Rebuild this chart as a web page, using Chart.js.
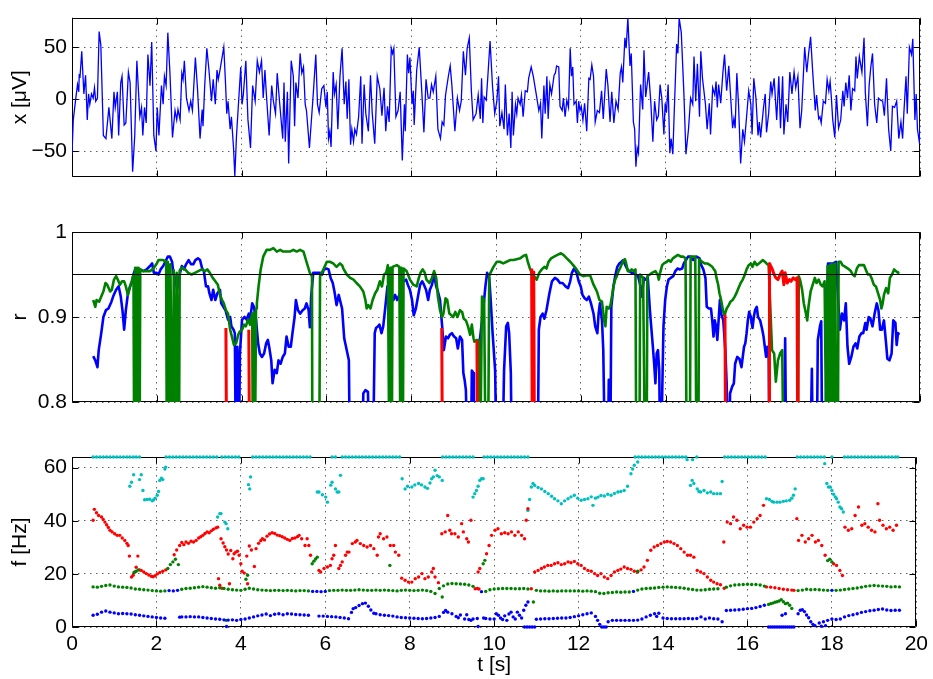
<!DOCTYPE html>
<html><head><meta charset="utf-8">
<script src="https://cdn.jsdelivr.net/npm/chart.js@4.4.0/dist/chart.umd.min.js"></script>
<style>
html,body{margin:0;padding:0;background:#fff;}
#wrap{position:relative;width:933px;height:679px;overflow:hidden;background:#fff;}
canvas{position:absolute;left:0;top:0;}
</style></head><body>
<div id="wrap">
<canvas id="c1" width="933" height="679"></canvas>
<canvas id="c2" width="933" height="679"></canvas>
<canvas id="c3" width="933" height="679"></canvas>
</div>
<script>
// ---------- DATA ----------
const xTickStep = 2;
const xTicksTop = [-50, 0, 50];
const rTicks = [0.8, 0.9, 1];
const fTicks = [0, 20, 40, 60];
const rThreshold = 0.95;

// top panel: x [uV] vs t [s]
const xSignal = [[0.00,-53],[0.03,-20],[0.09,1],[0.13,14],[0.16,7],[0.17,23],[0.19,22],[0.23,46],[0.28,5],[0.32,23],[0.36,-20],[0.39,5],[0.42,-5],[0.46,5],[0.50,1],[0.53,11],[0.56,-2],[0.60,1],[0.64,65],[0.68,52],[0.74,-35],[0.80,-38],[0.87,-8],[0.94,-38],[0.99,7],[1.02,-8],[1.07,7],[1.10,-35],[1.15,16],[1.18,22],[1.23,-25],[1.27,-23],[1.33,26],[1.37,16],[1.43,-70],[1.48,-35],[1.53,37],[1.60,-17],[1.64,-8],[1.67,-35],[1.71,-8],[1.75,-23],[1.79,43],[1.84,13],[1.88,55],[1.93,-35],[1.98,-50],[2.01,-8],[2.05,-35],[2.11,13],[2.15,-5],[2.18,22],[2.22,13],[2.26,64],[2.31,25],[2.37,-37],[2.43,-11],[2.47,-20],[2.50,-10],[2.55,-20],[2.59,25],[2.62,19],[2.65,37],[2.70,1],[2.76,-11],[2.80,-2],[2.84,-11],[2.91,40],[2.96,10],[3.02,-38],[3.07,-10],[3.09,-26],[3.13,13],[3.18,49],[3.23,28],[3.29,-2],[3.33,19],[3.38,-5],[3.42,28],[3.45,19],[3.49,28],[3.58,50],[3.62,16],[3.65,-14],[3.68,-2],[3.73,-29],[3.76,-17],[3.81,-47],[3.84,-74],[3.88,-35],[3.93,-2],[3.98,31],[4.01,-5],[4.04,4],[4.10,37],[4.15,-20],[4.21,-47],[4.26,13],[4.32,-2],[4.37,37],[4.42,26],[4.47,37],[4.51,1],[4.55,28],[4.59,1],[4.65,-35],[4.71,13],[4.75,-2],[4.80,-14],[4.84,25],[4.90,-5],[4.97,-38],[5.00,16],[5.03,-41],[5.08,7],[5.11,-62],[5.17,37],[5.22,22],[5.25,-26],[5.28,16],[5.33,1],[5.38,44],[5.42,25],[5.46,31],[5.50,-5],[5.53,-11],[5.60,-47],[5.69,5],[5.75,43],[5.79,-5],[5.83,-13],[5.89,10],[5.94,13],[5.99,-8],[6.02,7],[6.05,-38],[6.08,-31],[6.11,-46],[6.16,26],[6.19,5],[6.23,14],[6.27,-29],[6.32,22],[6.37,49],[6.42,-5],[6.46,17],[6.49,-19],[6.53,19],[6.57,-44],[6.60,-29],[6.64,-41],[6.67,-29],[6.71,-34],[6.76,-17],[6.81,22],[6.84,-43],[6.89,14],[6.93,-14],[6.99,-31],[7.04,23],[7.08,-13],[7.14,-43],[7.20,22],[7.26,10],[7.31,-16],[7.36,11],[7.40,-31],[7.44,-7],[7.48,-22],[7.53,49],[7.56,44],[7.59,49],[7.64,-17],[7.69,-11],[7.74,7],[7.79,-59],[7.84,-5],[7.86,-31],[7.91,43],[7.94,25],[7.97,40],[8.02,-5],[8.05,8],[8.07,-25],[8.13,28],[8.19,50],[8.25,7],[8.30,-32],[8.35,19],[8.40,1],[8.44,1],[8.48,14],[8.52,7],[8.58,22],[8.63,-29],[8.69,-38],[8.73,-22],[8.77,-25],[8.81,4],[8.88,23],[8.92,32],[8.96,13],[9.03,-31],[9.09,1],[9.14,-11],[9.18,-2],[9.23,46],[9.28,23],[9.32,49],[9.37,59],[9.42,7],[9.46,-20],[9.53,-14],[9.58,4],[9.63,-19],[9.66,20],[9.69,-23],[9.72,2],[9.77,-1],[9.80,17],[9.86,56],[9.92,11],[9.97,-14],[10.02,-2],[10.06,22],[10.09,-26],[10.14,-13],[10.19,-29],[10.22,14],[10.27,-35],[10.31,-14],[10.35,-47],[10.38,7],[10.41,-35],[10.46,-5],[10.49,-14],[10.52,1],[10.57,-5],[10.60,4],[10.64,-17],[10.69,8],[10.74,7],[10.77,20],[10.83,31],[10.88,22],[10.96,2],[11.01,-11],[11.05,-4],[11.08,-38],[11.13,13],[11.16,-14],[11.20,22],[11.23,-19],[11.27,14],[11.31,5],[11.37,23],[11.40,25],[11.43,32],[11.48,31],[11.51,-7],[11.56,-11],[11.59,1],[11.63,-17],[11.67,-1],[11.71,-8],[11.75,49],[11.78,22],[11.81,31],[11.84,-5],[11.89,-2],[11.92,-23],[11.95,-2],[11.98,-11],[12.01,-7],[12.05,-20],[12.09,-4],[12.14,-31],[12.19,20],[12.22,19],[12.26,33],[12.30,22],[12.34,-22],[12.39,-11],[12.44,-13],[12.49,8],[12.53,-19],[12.60,29],[12.64,13],[12.69,-22],[12.73,7],[12.78,-23],[12.83,-2],[12.88,-10],[12.93,25],[12.96,31],[12.99,16],[13.04,59],[13.07,49],[13.11,78],[13.16,32],[13.19,44],[13.24,-22],[13.27,-29],[13.30,-65],[13.33,-47],[13.36,-52],[13.41,14],[13.46,-10],[13.49,47],[13.53,2],[13.60,26],[13.65,-2],[13.70,-41],[13.74,-2],[13.79,-20],[13.83,-16],[13.87,14],[13.91,1],[13.96,-34],[13.99,-4],[14.02,-13],[14.06,14],[14.10,-52],[14.13,-38],[14.17,-53],[14.21,-5],[14.26,53],[14.29,44],[14.32,78],[14.37,64],[14.43,7],[14.48,-53],[14.54,-29],[14.59,1],[14.64,-5],[14.67,41],[14.71,-2],[14.75,34],[14.80,-17],[14.83,46],[14.87,20],[14.94,-5],[14.98,-29],[15.03,-4],[15.06,-34],[15.11,11],[15.16,4],[15.19,17],[15.22,-8],[15.25,14],[15.30,-4],[15.35,25],[15.39,43],[15.44,8],[15.49,32],[15.53,5],[15.58,-28],[15.61,-19],[15.64,-28],[15.68,25],[15.72,-5],[15.77,-62],[15.82,-29],[15.86,-41],[15.91,-17],[15.96,8],[16.01,-5],[16.04,-34],[16.08,20],[16.13,1],[16.18,-35],[16.21,-22],[16.24,-37],[16.31,-8],[16.35,5],[16.38,-32],[16.43,-14],[16.48,17],[16.51,5],[16.56,20],[16.62,-20],[16.67,22],[16.71,-28],[16.76,22],[16.79,-34],[16.84,-5],[16.88,-22],[16.93,26],[16.98,5],[17.03,26],[17.07,11],[17.12,22],[17.17,-28],[17.21,-11],[17.28,50],[17.33,26],[17.37,43],[17.42,60],[17.47,26],[17.53,-11],[17.56,4],[17.61,-19],[17.64,-17],[17.67,-23],[17.72,-2],[17.77,-4],[17.81,19],[17.85,8],[17.88,17],[17.91,1],[17.94,-19],[17.99,-37],[18.03,4],[18.08,-28],[18.13,-20],[18.18,8],[18.21,-7],[18.25,16],[18.29,1],[18.33,23],[18.37,-11],[18.41,10],[18.46,8],[18.49,41],[18.52,20],[18.57,41],[18.63,26],[18.68,59],[18.71,7],[18.76,-26],[18.80,13],[18.84,31],[18.88,44],[18.93,-5],[18.98,-23],[19.02,1],[19.07,-1],[19.12,-2],[19.16,-16],[19.21,20],[19.26,-29],[19.31,-50],[19.35,-7],[19.40,-8],[19.45,-2],[19.50,-38],[19.55,-22],[19.59,-38],[19.62,-13],[19.67,22],[19.70,-14],[19.75,50],[19.80,43],[19.83,58],[19.88,-20],[19.91,5],[19.94,-29],[19.99,-43],[20.00,-22]];

// middle panel: r vs t  (values below 0.8 fall outside the axis)
const rBlue = [[0.50,0.854],[0.55,0.849],[0.60,0.841],[0.63,0.861],[0.69,0.881],[0.74,0.900],[0.80,0.908],[0.86,0.910],[0.93,0.918],[0.97,0.924],[1.04,0.932],[1.10,0.936],[1.15,0.924],[1.19,0.908],[1.23,0.885],[1.27,0.908],[1.32,0.928],[1.37,0.936],[1.42,0.942],[1.45,0.950],[1.49,0.956],[1.54,0.956],[1.60,0.956],[1.68,0.954],[1.76,0.956],[1.84,0.960],[1.89,0.963],[1.93,0.952],[2.00,0.952],[2.04,0.950],[2.09,0.956],[2.15,0.960],[2.20,0.965],[2.26,0.971],[2.31,0.971],[2.36,0.965],[2.39,0.952],[2.44,0.944],[2.48,0.932],[2.50,0.940],[2.55,0.952],[2.59,0.960],[2.64,0.956],[2.69,0.962],[2.75,0.967],[2.81,0.962],[2.86,0.962],[2.91,0.967],[2.97,0.969],[3.02,0.967],[3.07,0.957],[3.11,0.954],[3.16,0.936],[3.21,0.936],[3.24,0.928],[3.29,0.920],[3.33,0.932],[3.38,0.920],[3.43,0.928],[3.49,0.932],[3.52,0.916],[3.57,0.912],[3.62,0.908],[3.68,0.897],[3.73,0.900],[3.76,0.889],[3.81,0.885],[3.84,0.881],[3.87,0.70],[3.90,0.865],[3.93,0.70],[3.96,0.857],[4.01,0.897],[4.07,0.900],[4.12,0.897],[4.17,0.904],[4.20,0.897],[4.25,0.916],[4.29,0.912],[4.34,0.897],[4.39,0.869],[4.43,0.857],[4.48,0.853],[4.53,0.857],[4.58,0.869],[4.62,0.873],[4.65,0.865],[4.70,0.849],[4.73,0.822],[4.78,0.838],[4.83,0.834],[4.87,0.849],[4.92,0.845],[4.97,0.853],[5.02,0.857],[5.06,0.877],[5.11,0.865],[5.16,0.865],[5.20,0.881],[5.25,0.900],[5.28,0.920],[5.33,0.908],[5.38,0.904],[5.44,0.908],[5.49,0.910],[5.53,0.916],[5.58,0.908],[5.61,0.888],[5.64,0.924],[5.69,0.952],[5.75,0.952],[5.82,0.952],[5.85,0.952],[5.90,0.950],[5.94,0.956],[6.01,0.957],[6.05,0.956],[6.10,0.946],[6.15,0.940],[6.19,0.930],[6.24,0.914],[6.29,0.926],[6.32,0.920],[6.37,0.910],[6.42,0.875],[6.48,0.861],[6.53,0.849],[6.56,0.70],[6.84,0.70],[6.87,0.810],[6.92,0.814],[6.98,0.812],[7.03,0.70],[7.09,0.70],[7.14,0.881],[7.17,0.887],[7.22,0.889],[7.25,0.891],[7.30,0.881],[7.34,0.889],[7.39,0.912],[7.44,0.936],[7.48,0.936],[7.53,0.928],[7.58,0.920],[7.62,0.926],[7.67,0.920],[7.72,0.926],[7.77,0.936],[7.81,0.942],[7.88,0.944],[7.92,0.938],[7.97,0.932],[8.02,0.920],[8.06,0.902],[8.11,0.910],[8.16,0.924],[8.21,0.938],[8.26,0.942],[8.30,0.938],[8.35,0.932],[8.40,0.920],[8.44,0.932],[8.49,0.938],[8.54,0.950],[8.59,0.936],[8.63,0.930],[8.68,0.920],[8.73,0.889],[8.77,0.861],[8.82,0.877],[8.87,0.875],[8.91,0.879],[8.96,0.881],[9.01,0.877],[9.06,0.875],[9.10,0.863],[9.15,0.877],[9.20,0.873],[9.23,0.834],[9.26,0.826],[9.29,0.814],[9.34,0.70],[9.40,0.70],[9.43,0.837],[9.47,0.834],[9.48,0.70],[9.59,0.70],[9.62,0.873],[9.67,0.896],[9.72,0.920],[9.75,0.936],[9.79,0.952],[9.84,0.946],[9.87,0.924],[9.92,0.881],[9.98,0.837],[10.02,0.70],[10.14,0.70],[10.19,0.837],[10.24,0.889],[10.28,0.893],[10.31,0.881],[10.35,0.834],[10.38,0.70],[10.98,0.70],[11.01,0.885],[11.05,0.900],[11.10,0.904],[11.14,0.898],[11.19,0.908],[11.26,0.928],[11.32,0.942],[11.39,0.946],[11.45,0.944],[11.51,0.940],[11.57,0.940],[11.64,0.936],[11.70,0.934],[11.75,0.942],[11.79,0.952],[11.84,0.957],[11.90,0.952],[11.95,0.942],[12.00,0.936],[12.04,0.926],[12.09,0.922],[12.14,0.920],[12.19,0.924],[12.24,0.916],[12.27,0.910],[12.30,0.904],[12.34,0.889],[12.39,0.881],[12.42,0.904],[12.45,0.916],[12.50,0.896],[12.53,0.861],[12.58,0.70],[12.63,0.70],[12.66,0.826],[12.69,0.70],[12.72,0.912],[12.77,0.936],[12.81,0.948],[12.86,0.959],[12.91,0.963],[12.96,0.965],[13.00,0.967],[13.05,0.961],[13.10,0.956],[13.14,0.954],[13.20,0.952],[13.25,0.952],[13.30,0.950],[13.35,0.948],[13.40,0.938],[13.44,0.924],[13.49,0.946],[13.53,0.944],[13.58,0.946],[13.63,0.908],[13.66,0.889],[13.70,0.865],[13.73,0.845],[13.76,0.822],[13.79,0.857],[13.82,0.861],[13.85,0.837],[13.88,0.70],[13.92,0.810],[13.95,0.889],[13.99,0.920],[14.03,0.936],[14.07,0.944],[14.12,0.946],[14.18,0.948],[14.23,0.954],[14.28,0.957],[14.34,0.956],[14.39,0.957],[14.43,0.963],[14.48,0.967],[14.53,0.971],[14.59,0.971],[14.65,0.967],[14.73,0.971],[14.80,0.969],[14.84,0.961],[14.89,0.956],[14.94,0.946],[14.97,0.912],[15.02,0.910],[15.07,0.910],[15.10,0.896],[15.13,0.877],[15.16,0.896],[15.19,0.889],[15.22,0.873],[15.25,0.896],[15.28,0.920],[15.31,0.904],[15.36,0.896],[15.41,0.860],[15.44,0.822],[15.49,0.70],[15.52,0.810],[15.57,0.818],[15.61,0.822],[15.64,0.845],[15.69,0.853],[15.74,0.851],[15.79,0.841],[15.82,0.853],[15.85,0.865],[15.88,0.869],[15.91,0.881],[15.94,0.896],[15.97,0.906],[16.01,0.900],[16.05,0.887],[16.08,0.900],[16.11,0.908],[16.15,0.912],[16.18,0.900],[16.23,0.896],[16.28,0.885],[16.31,0.877],[16.34,0.865],[16.37,0.853],[16.40,0.865],[16.43,0.861],[16.45,0.70],[16.78,0.70],[16.82,0.875],[16.85,0.70],[17.40,0.70],[17.45,0.839],[17.48,0.70],[17.56,0.70],[17.59,0.873],[17.64,0.889],[17.67,0.895],[17.70,0.70],[17.77,0.70],[17.80,0.896],[17.83,0.963],[17.96,0.963],[18.02,0.965],[18.07,0.920],[18.11,0.885],[18.16,0.904],[18.21,0.896],[18.25,0.916],[18.29,0.865],[18.33,0.845],[18.38,0.853],[18.43,0.865],[18.48,0.869],[18.52,0.863],[18.57,0.877],[18.62,0.881],[18.66,0.881],[18.71,0.893],[18.74,0.885],[18.79,0.900],[18.83,0.898],[18.88,0.889],[18.93,0.904],[18.98,0.916],[19.02,0.908],[19.06,0.885],[19.10,0.885],[19.15,0.896],[19.20,0.869],[19.23,0.851],[19.28,0.849],[19.33,0.857],[19.37,0.896],[19.42,0.893],[19.45,0.867],[19.48,0.881],[19.51,0.879]];

const rGreen = [[0.50,0.920],[0.55,0.912],[0.58,0.920],[0.64,0.918],[0.69,0.924],[0.74,0.930],[0.79,0.940],[0.83,0.938],[0.90,0.930],[0.94,0.932],[0.99,0.944],[1.04,0.948],[1.08,0.944],[1.13,0.938],[1.18,0.942],[1.23,0.942],[1.27,0.936],[1.32,0.926],[1.37,0.936],[1.42,0.944],[1.45,0.950],[1.47,0.70],[1.49,0.958],[1.51,0.70],[1.53,0.958],[1.55,0.70],[1.57,0.958],[1.59,0.70],[1.61,0.956],[1.68,0.954],[1.76,0.954],[1.84,0.954],[1.92,0.957],[2.00,0.963],[2.04,0.967],[2.15,0.967],[2.22,0.965],[2.24,0.70],[2.26,0.965],[2.30,0.70],[2.32,0.962],[2.38,0.70],[2.40,0.955],[2.45,0.70],[2.47,0.952],[2.52,0.70],[2.54,0.955],[2.59,0.958],[2.67,0.956],[2.74,0.952],[2.82,0.950],[2.90,0.952],[2.98,0.954],[3.06,0.956],[3.14,0.954],[3.19,0.956],[3.25,0.952],[3.32,0.946],[3.38,0.942],[3.44,0.938],[3.49,0.926],[3.54,0.920],[3.58,0.916],[3.63,0.908],[3.68,0.904],[3.73,0.885],[3.77,0.877],[3.82,0.867],[3.87,0.869],[3.92,0.879],[3.96,0.883],[4.01,0.885],[4.06,0.891],[4.10,0.889],[4.15,0.897],[4.20,0.891],[4.25,0.904],[4.27,0.70],[4.29,0.905],[4.31,0.70],[4.34,0.910],[4.36,0.916],[4.40,0.936],[4.45,0.956],[4.51,0.971],[4.59,0.979],[4.67,0.979],[4.75,0.981],[4.83,0.977],[4.91,0.979],[4.98,0.977],[5.06,0.977],[5.14,0.977],[5.22,0.979],[5.30,0.977],[5.38,0.979],[5.46,0.977],[5.53,0.965],[5.61,0.952],[5.66,0.948],[5.67,0.70],[5.83,0.70],[5.85,0.948],[5.93,0.956],[6.01,0.965],[6.08,0.965],[6.16,0.963],[6.24,0.959],[6.32,0.963],[6.37,0.961],[6.40,0.957],[6.48,0.950],[6.56,0.946],[6.64,0.944],[6.71,0.940],[6.79,0.936],[6.87,0.930],[6.92,0.920],[6.95,0.910],[6.99,0.914],[7.04,0.910],[7.09,0.920],[7.15,0.928],[7.20,0.932],[7.26,0.942],[7.31,0.936],[7.36,0.950],[7.41,0.952],[7.45,0.961],[7.49,0.70],[7.51,0.958],[7.54,0.70],[7.56,0.959],[7.66,0.961],[7.72,0.959],[7.75,0.70],[7.77,0.958],[7.80,0.70],[7.82,0.957],[7.89,0.954],[7.97,0.944],[8.05,0.938],[8.13,0.936],[8.18,0.946],[8.22,0.952],[8.27,0.956],[8.32,0.952],[8.36,0.944],[8.43,0.940],[8.49,0.946],[8.54,0.954],[8.59,0.946],[8.63,0.924],[8.68,0.908],[8.73,0.900],[8.76,0.904],[8.81,0.922],[8.85,0.920],[8.90,0.904],[8.95,0.902],[8.99,0.900],[9.04,0.906],[9.09,0.900],[9.15,0.908],[9.20,0.906],[9.24,0.898],[9.29,0.896],[9.34,0.889],[9.39,0.879],[9.43,0.891],[9.47,0.875],[9.49,0.871],[9.54,0.873],[9.59,0.873],[9.62,0.70],[9.67,0.924],[9.72,0.920],[9.76,0.70],[9.81,0.70],[9.84,0.948],[9.87,0.952],[9.94,0.959],[10.02,0.965],[10.09,0.965],[10.17,0.963],[10.25,0.965],[10.33,0.967],[10.41,0.967],[10.49,0.968],[10.57,0.969],[10.65,0.972],[10.71,0.973],[10.75,0.965],[10.80,0.957],[10.86,0.950],[10.93,0.946],[10.96,0.944],[11.02,0.952],[11.08,0.956],[11.14,0.959],[11.19,0.957],[11.24,0.965],[11.30,0.969],[11.37,0.971],[11.45,0.973],[11.53,0.975],[11.59,0.973],[11.67,0.969],[11.75,0.965],[11.82,0.961],[11.90,0.956],[11.98,0.950],[12.06,0.948],[12.14,0.949],[12.22,0.949],[12.30,0.938],[12.38,0.930],[12.44,0.920],[12.50,0.918],[12.55,0.896],[12.58,0.889],[12.61,0.912],[12.66,0.910],[12.70,0.914],[12.74,0.926],[12.77,0.936],[12.81,0.944],[12.85,0.948],[12.89,0.954],[12.94,0.959],[12.99,0.965],[13.04,0.968],[13.07,0.963],[13.11,0.954],[13.16,0.954],[13.20,0.956],[13.25,0.954],[13.29,0.956],[13.31,0.70],[13.38,0.70],[13.40,0.950],[13.47,0.946],[13.52,0.70],[13.55,0.70],[13.57,0.948],[13.63,0.950],[13.68,0.952],[13.76,0.954],[13.81,0.950],[13.84,0.944],[13.87,0.952],[13.92,0.961],[13.96,0.963],[14.03,0.965],[14.07,0.967],[14.12,0.965],[14.17,0.969],[14.23,0.971],[14.29,0.973],[14.36,0.971],[14.42,0.971],[14.47,0.969],[14.50,0.70],[14.57,0.70],[14.59,0.971],[14.65,0.971],[14.70,0.971],[14.73,0.70],[14.77,0.70],[14.79,0.968],[14.86,0.965],[14.92,0.963],[14.98,0.963],[15.05,0.961],[15.10,0.959],[15.14,0.956],[15.17,0.954],[15.20,0.946],[15.24,0.938],[15.27,0.928],[15.30,0.922],[15.33,0.914],[15.36,0.906],[15.39,0.902],[15.44,0.910],[15.49,0.914],[15.53,0.918],[15.58,0.920],[15.63,0.924],[15.67,0.928],[15.72,0.934],[15.77,0.940],[15.82,0.944],[15.87,0.950],[15.91,0.956],[15.96,0.961],[16.01,0.963],[16.05,0.959],[16.10,0.965],[16.15,0.961],[16.20,0.963],[16.25,0.965],[16.29,0.967],[16.34,0.965],[16.38,0.963],[16.43,0.961],[16.51,0.861],[16.56,0.857],[16.60,0.824],[16.65,0.849],[16.70,0.857],[16.75,0.861],[16.79,0.70],[17.12,0.70],[17.14,0.948],[17.17,0.944],[17.22,0.932],[17.26,0.916],[17.31,0.904],[17.34,0.896],[17.37,0.912],[17.42,0.930],[17.47,0.938],[17.52,0.946],[17.56,0.940],[17.61,0.944],[17.66,0.938],[17.70,0.936],[17.75,0.942],[17.80,0.70],[17.82,0.960],[17.84,0.70],[17.86,0.960],[17.88,0.70],[17.90,0.962],[17.93,0.70],[17.95,0.962],[17.98,0.70],[18.00,0.963],[18.03,0.70],[18.06,0.70],[18.08,0.965],[18.13,0.965],[18.17,0.961],[18.24,0.959],[18.30,0.957],[18.37,0.954],[18.41,0.950],[18.46,0.948],[18.51,0.957],[18.56,0.961],[18.62,0.961],[18.68,0.961],[18.72,0.956],[18.77,0.950],[18.82,0.950],[18.87,0.944],[18.91,0.938],[18.96,0.936],[19.01,0.928],[19.06,0.920],[19.09,0.910],[19.12,0.916],[19.15,0.926],[19.20,0.934],[19.25,0.928],[19.29,0.946],[19.34,0.950],[19.39,0.956],[19.43,0.954],[19.48,0.952],[19.51,0.953]];

const rRed = [[3.63,0.887],[3.65,0.70],[3.66,null],[4.17,0.885],[4.19,0.70],[4.20,null],[8.72,0.887],[8.74,0.70],[8.75,null],[9.55,0.873],[9.57,0.70],[9.58,null],[10.84,0.957],[10.86,0.70],[10.89,0.953],[10.91,0.70],[10.92,null],[15.40,0.903],[15.42,0.70],[15.43,null],[16.44,0.70],[16.45,0.963],[16.51,0.957],[16.56,0.950],[16.60,0.946],[16.65,0.944],[16.70,0.950],[16.75,0.954],[16.79,0.938],[16.82,0.952],[16.87,0.940],[16.92,0.944],[16.96,0.942],[17.01,0.946],[17.06,0.944],[17.10,0.946],[17.12,0.70]];

// bottom panel: f [Hz] vs t
const fTopEdge = 64;
const fCyanTopT = [0.50,0.58,0.66,0.74,0.82,0.90,0.98,1.06,1.14,1.22,1.30,1.37,1.45,1.52,1.60,2.23,2.31,2.39,2.47,2.55,2.63,2.71,2.79,2.87,2.95,3.03,3.11,3.19,3.27,3.35,3.43,3.55,3.63,3.71,3.79,3.87,3.95,4.28,4.36,4.44,4.52,4.60,4.68,4.76,4.84,4.92,5.00,5.08,5.16,5.24,5.32,5.40,5.48,5.56,5.64,6.16,6.24,6.40,6.48,6.56,6.64,6.72,6.80,6.88,6.96,7.04,7.12,7.20,7.28,7.36,7.44,7.52,7.60,7.68,7.76,8.78,8.86,8.94,9.02,9.10,9.18,9.26,9.34,9.42,9.50,9.76,9.84,9.92,10.00,10.08,10.16,10.24,10.32,10.40,10.48,10.56,10.64,10.72,10.80,13.34,13.42,13.50,13.58,13.66,13.74,13.82,13.90,13.98,14.06,14.14,14.22,14.30,14.38,14.46,14.54,14.80,15.46,15.54,15.62,15.70,15.78,15.86,15.94,16.02,16.10,16.18,16.26,16.34,16.42,17.18,17.26,17.34,17.42,17.50,17.58,17.66,17.74,17.82,18.00,18.30,18.38,18.46,18.54,18.62,18.70,18.78,18.86,18.94,19.02,19.10,19.18,19.26,19.34,19.42,19.50,19.56];

const fCyan = [[1.37,53.0],[1.41,54.5],[1.46,57.3],[1.60,55.5],[1.64,57.3],[1.68,51.4],[1.72,47.9],[1.78,48.0],[1.84,48.1],[1.90,47.5],[1.93,47.8],[1.97,48.5],[2.02,49.6],[2.05,51.0],[2.08,55.2],[2.12,56.0],[2.15,55.5],[2.20,59.5],[2.22,60.2],[3.45,41.4],[3.50,42.7],[3.53,42.7],[3.62,39.5],[3.65,38.9],[3.69,37.0],[4.18,53.6],[4.21,52.0],[4.23,56.5],[5.81,50.8],[5.85,50.8],[5.93,49.8],[6.01,48.9],[6.05,47.0],[6.13,53.4],[6.16,54.5],[6.24,52.0],[6.28,50.8],[6.32,50.8],[6.36,57.1],[7.82,55.8],[7.89,52.0],[7.95,53.0],[8.05,52.7],[8.12,53.5],[8.21,54.0],[8.28,53.5],[8.36,52.7],[8.42,52.2],[8.48,54.2],[8.52,55.8],[8.56,56.5],[8.60,59.0],[8.65,57.0],[8.70,56.5],[8.77,55.2],[9.50,48.9],[9.54,50.2],[9.58,51.4],[9.62,53.0],[9.66,55.2],[9.70,55.8],[9.74,55.8],[10.80,43.9],[10.84,48.0],[10.88,52.7],[10.92,54.0],[10.96,53.3],[11.04,52.5],[11.12,52.0],[11.20,51.0],[11.28,50.2],[11.36,49.2],[11.43,48.3],[11.51,47.5],[11.59,46.4],[11.67,47.5],[11.75,48.3],[11.82,49.0],[11.90,49.6],[11.98,48.5],[12.06,47.7],[12.14,48.0],[12.22,48.3],[12.30,49.0],[12.34,45.8],[12.40,48.5],[12.46,48.9],[12.53,49.5],[12.61,49.3],[12.69,50.0],[12.77,49.6],[12.85,50.3],[12.93,50.8],[13.00,51.0],[13.08,51.4],[13.16,53.0],[13.24,57.7],[13.28,59.5],[13.32,60.9],[13.40,62.1],[14.57,63.0],[14.70,63.0],[14.65,53.3],[14.69,55.2],[14.73,54.0],[14.81,52.0],[14.85,51.0],[14.89,50.8],[14.97,51.4],[15.05,50.5],[15.13,50.8],[15.20,50.2],[15.28,50.2],[15.36,50.2],[15.40,54.8],[16.45,48.3],[16.52,48.0],[16.58,47.3],[16.62,47.0],[16.70,47.0],[16.77,47.0],[16.85,47.3],[16.92,47.5],[17.00,47.7],[17.05,48.5],[17.09,49.6],[17.13,52.0],[17.83,61.5],[17.88,54.0],[17.92,52.7],[17.96,52.7],[18.00,51.4],[18.04,50.0],[18.08,49.0],[18.11,48.3],[18.15,47.0],[18.19,45.2],[18.23,44.5],[18.27,43.3]];

const fRed = [[0.50,40.2],[0.53,44.3],[0.58,43.0],[0.63,42.0],[0.70,41.4],[0.74,40.5],[0.78,39.5],[0.82,38.5],[0.86,37.5],[0.90,36.4],[0.95,35.8],[1.01,35.1],[1.07,34.5],[1.13,34.5],[1.19,33.5],[1.25,32.6],[1.30,31.5],[1.33,30.7],[1.36,26.7],[1.41,18.8],[1.45,19.5],[1.49,20.7],[1.52,22.5],[1.56,26.7],[1.60,21.5],[1.64,21.3],[1.70,20.7],[1.76,20.1],[1.82,19.6],[1.88,19.1],[1.92,18.9],[1.97,19.3],[2.02,20.0],[2.08,20.5],[2.15,21.0],[2.22,21.5],[2.42,27.2],[2.48,29.0],[2.55,30.7],[2.60,31.8],[2.65,31.0],[2.70,32.0],[2.76,31.5],[2.82,32.3],[2.88,32.0],[2.94,32.6],[3.00,33.5],[3.05,34.0],[3.10,34.5],[3.15,35.2],[3.20,35.8],[3.25,35.5],[3.30,36.2],[3.35,36.8],[3.41,37.3],[3.45,37.6],[3.47,18.2],[3.50,15.7],[3.53,33.2],[3.55,14.6],[3.58,31.6],[3.62,30.2],[3.66,29.0],[3.70,27.5],[3.73,16.3],[3.76,28.8],[3.81,25.7],[3.84,27.6],[3.88,28.2],[3.92,28.5],[3.96,27.0],[4.00,23.8],[4.03,21.0],[4.08,20.3],[4.14,26.7],[4.16,16.3],[4.20,30.5],[4.25,29.0],[4.32,22.8],[4.36,29.5],[4.42,31.5],[4.47,32.5],[4.51,33.2],[4.56,32.8],[4.62,34.2],[4.68,35.0],[4.74,35.5],[4.80,35.2],[4.86,34.6],[4.92,34.4],[4.98,34.0],[5.04,33.5],[5.10,33.0],[5.16,32.6],[5.22,33.3],[5.28,33.5],[5.34,34.0],[5.38,34.5],[5.44,33.2],[5.52,30.7],[5.57,33.2],[5.61,30.7],[5.65,27.0],[5.85,21.3],[5.89,20.7],[5.97,22.0],[6.05,22.6],[6.12,23.2],[6.16,25.7],[6.20,27.0],[6.24,30.7],[6.32,22.0],[6.36,23.2],[6.40,24.5],[6.48,27.0],[6.52,28.2],[6.56,28.2],[6.64,31.4],[6.71,32.0],[6.75,32.6],[6.83,31.4],[6.91,30.7],[6.99,30.1],[7.07,30.7],[7.15,29.5],[7.23,27.0],[7.26,33.9],[7.30,35.1],[7.38,33.2],[7.46,33.9],[7.54,30.7],[7.62,30.7],[7.66,28.2],[7.74,27.0],[7.81,18.4],[7.89,17.6],[7.97,16.9],[8.05,16.9],[8.13,18.2],[8.21,18.8],[8.29,20.1],[8.36,18.2],[8.44,18.8],[8.52,20.7],[8.56,22.0],[8.60,18.8],[8.68,16.7],[8.76,35.1],[8.84,35.8],[8.90,42.0],[8.95,36.4],[8.99,35.1],[9.07,35.1],[9.15,33.9],[9.23,38.9],[9.27,35.8],[9.35,33.2],[9.39,32.0],[9.45,40.2],[9.55,14.4],[9.60,14.5],[9.62,20.7],[9.64,14.3],[9.66,22.0],[9.82,27.6],[9.88,30.7],[9.94,34.5],[10.02,36.4],[10.09,37.0],[10.17,35.1],[10.25,35.5],[10.33,35.1],[10.41,35.8],[10.49,34.5],[10.57,35.8],[10.65,34.5],[10.72,33.2],[10.76,40.2],[10.80,44.5],[10.88,14.4],[10.96,20.7],[11.04,21.3],[11.12,22.0],[11.19,22.6],[11.27,23.2],[11.35,23.2],[11.43,23.8],[11.51,24.2],[11.59,23.5],[11.67,23.8],[11.75,24.5],[11.82,24.2],[11.90,24.7],[11.98,23.8],[12.06,23.2],[12.14,22.0],[12.22,21.3],[12.30,21.0],[12.38,20.1],[12.45,19.4],[12.53,20.1],[12.61,18.8],[12.69,18.2],[12.77,19.4],[12.85,20.7],[12.93,21.3],[13.00,21.8],[13.08,22.6],[13.16,22.0],[13.24,21.7],[13.32,21.0],[13.40,20.7],[13.48,21.5],[13.55,22.6],[13.63,25.1],[13.71,28.9],[13.79,30.1],[13.87,30.7],[13.95,31.4],[14.03,32.0],[14.10,32.2],[14.18,32.0],[14.26,31.4],[14.34,30.7],[14.42,29.5],[14.50,28.2],[14.58,27.0],[14.65,27.0],[14.73,26.3],[14.81,21.3],[14.89,20.7],[14.97,20.1],[15.05,18.8],[15.13,17.6],[15.20,16.9],[15.28,16.3],[15.36,15.9],[15.44,32.0],[15.45,14.6],[15.52,39.5],[15.60,38.9],[15.67,41.4],[15.75,40.2],[15.83,37.0],[15.91,38.3],[15.99,37.6],[16.07,37.6],[16.15,39.5],[16.23,40.8],[16.30,42.0],[16.38,45.8],[16.45,15.1],[16.55,15.0],[16.65,14.8],[16.75,14.5],[16.85,14.2],[16.95,14.0],[17.05,13.9],[17.10,13.8],[17.17,40.8],[17.21,32.6],[17.29,34.5],[17.37,32.0],[17.45,33.2],[17.53,34.5],[17.61,32.0],[17.68,32.6],[17.76,30.7],[17.84,27.0],[18.04,23.8],[18.11,23.2],[18.19,21.3],[18.25,19.4],[18.31,37.6],[18.39,36.4],[18.47,37.0],[18.55,42.0],[18.63,45.2],[18.71,38.3],[18.78,38.9],[18.86,37.6],[18.94,36.4],[19.02,35.8],[19.09,46.4],[19.13,40.2],[19.21,38.3],[19.29,37.0],[19.37,37.6],[19.45,36.4],[19.53,38.3]];

const fGreen = [[0.5,15.1],[0.6,15.0],[0.7,15.3],[0.8,15.6],[0.9,15.8],[1.0,15.4],[1.1,15.1],[1.2,15.0],[1.3,14.9],[1.4,14.7],[1.5,14.3],[1.6,14.2],[1.7,14.0],[1.8,13.9],[1.9,13.7],[2.0,13.6],[2.1,13.5],[2.2,13.6],[2.6,14.2],[2.7,14.5],[2.8,14.6],[2.9,14.8],[3.0,15.0],[3.1,15.2],[3.2,15.0],[3.3,14.8],[3.4,14.6],[3.5,14.8],[3.6,14.5],[3.7,14.2],[3.8,14.0],[3.9,13.9],[4.0,13.8],[4.1,14.2],[4.2,14.6],[4.3,14.3],[4.4,14.0],[4.5,13.9],[4.6,13.8],[4.7,13.7],[4.8,13.8],[4.9,13.8],[5.0,13.7],[5.1,13.8],[5.2,13.7],[5.3,13.6],[5.4,13.7],[5.5,13.7],[5.6,13.6],[6.1,13.7],[6.2,13.8],[6.3,13.8],[6.4,13.9],[6.5,13.8],[6.6,13.8],[6.7,13.9],[6.8,14.0],[6.9,13.9],[7.0,13.8],[7.1,13.8],[7.2,13.9],[7.3,13.8],[7.4,13.9],[7.5,13.8],[7.6,13.7],[7.7,13.6],[7.8,13.8],[7.9,13.9],[8.0,13.8],[8.1,13.7],[8.2,13.8],[8.3,13.9],[8.4,13.7],[8.5,13.4],[8.6,12.6],[8.7,14.5],[8.8,15.5],[8.9,16.2],[9.0,16.4],[9.1,16.3],[9.2,16.2],[9.3,16.1],[9.4,15.8],[9.5,15.3],[9.8,13.4],[9.9,14.0],[10.0,14.3],[10.1,14.4],[10.2,14.5],[10.3,14.5],[10.4,14.5],[10.5,14.4],[10.6,14.4],[10.7,14.5],[10.8,14.3],[11.0,13.8],[11.1,13.6],[11.2,13.6],[11.3,13.5],[11.4,13.6],[11.5,13.5],[11.6,13.6],[11.7,13.6],[11.8,13.6],[11.9,13.6],[12.0,13.6],[12.1,13.5],[12.2,13.6],[12.3,13.5],[12.4,13.3],[12.5,12.7],[12.6,12.6],[12.7,12.9],[12.8,13.0],[12.9,13.2],[13.0,13.1],[13.1,13.2],[13.2,13.2],[13.4,13.9],[13.5,14.3],[13.6,14.5],[13.7,14.6],[13.8,14.7],[13.9,14.9],[14.0,15.0],[14.1,15.1],[14.2,15.0],[14.3,14.9],[14.4,14.8],[14.5,14.6],[14.6,14.3],[14.7,14.1],[14.8,13.9],[14.9,13.9],[15.0,14.0],[15.1,14.2],[15.2,14.3],[15.3,14.4],[15.5,15.0],[15.6,15.5],[15.7,15.8],[15.8,15.9],[15.9,16.0],[16.0,16.1],[16.1,16.0],[16.2,16.0],[16.3,15.8],[16.4,15.4],[17.2,13.7],[17.3,13.9],[17.4,14.2],[17.5,14.0],[17.6,14.1],[17.7,14.0],[17.8,13.9],[17.9,13.8],[18.1,13.8],[18.2,13.9],[18.3,14.1],[18.4,14.3],[18.5,14.5],[18.6,14.7],[18.7,15.0],[18.8,15.3],[18.9,15.5],[19.0,15.6],[19.1,15.5],[19.2,15.4],[19.3,15.3],[19.4,15.1],[19.5,15.2],[19.6,15.1],[1.47,20.5],[1.52,21.0],[1.57,21.5],[2.27,22.0],[2.33,23.5],[2.39,24.5],[2.45,25.5],[2.52,23.5],[3.65,2.5],[4.12,18.0],[4.16,19.5],[5.69,23.8],[5.73,24.8],[5.77,25.6],[5.81,26.3],[7.53,23.2],[8.77,11.3],[9.74,23.8],[9.78,25.1],[10.93,9.4],[13.40,21.0],[16.50,8.5],[16.55,8.8],[16.60,9.0],[16.65,9.3],[16.70,9.5],[16.75,9.8],[16.80,10.3],[16.85,9.5],[16.90,8.8],[16.95,9.0],[17.00,8.2],[17.05,7.0],[17.90,25.0],[17.95,25.5],[18.00,24.5]];

const fBlue = [[0.5,4.4],[0.6,4.8],[0.7,5.6],[0.8,6.0],[0.9,5.6],[1.0,5.3],[1.1,5.0],[1.2,5.1],[1.3,5.0],[1.4,4.9],[1.5,4.6],[1.6,4.4],[1.7,4.2],[1.8,4.0],[1.9,3.8],[2.0,3.6],[2.1,3.4],[2.2,3.3],[2.3,13.7],[2.4,13.6],[2.5,13.8],[2.55,3.7],[2.6,3.8],[2.7,3.8],[2.8,3.9],[2.9,3.8],[3.0,3.8],[3.1,3.6],[3.2,3.4],[3.3,3.2],[3.4,3.0],[3.5,2.9],[3.6,2.7],[3.66,0.2],[3.7,2.6],[3.8,2.7],[3.9,2.5],[4.0,2.8],[4.1,3.0],[4.2,3.4],[4.3,3.8],[4.4,4.2],[4.5,4.5],[4.6,4.9],[4.7,4.3],[4.8,4.8],[4.9,5.0],[5.0,4.6],[5.1,5.0],[5.2,4.9],[5.3,4.7],[5.4,4.6],[5.5,4.5],[5.6,4.4],[5.7,13.4],[5.8,13.4],[5.9,13.3],[6.0,13.4],[5.85,4.1],[5.95,4.1],[6.05,4.0],[6.15,3.9],[6.25,3.8],[6.35,3.6],[6.45,3.4],[6.55,3.1],[6.62,5.5],[6.66,6.9],[6.72,7.3],[6.80,8.1],[6.88,8.8],[6.95,9.0],[7.02,7.8],[7.08,6.4],[7.15,5.2],[7.2,5.0],[7.3,4.6],[7.4,4.4],[7.5,4.3],[7.6,4.1],[7.7,3.8],[7.8,3.6],[7.9,3.5],[8.0,3.4],[8.1,3.3],[8.2,3.2],[8.3,3.1],[8.4,3.2],[8.5,3.4],[8.6,3.6],[8.7,4.0],[8.8,5.5],[8.85,6.2],[8.9,5.6],[9.0,5.0],[9.1,4.0],[9.15,3.5],[9.2,4.5],[9.3,3.0],[9.35,4.6],[9.4,2.8],[9.45,2.5],[9.5,3.0],[9.6,3.2],[9.62,0.2],[9.7,13.3],[9.75,3.4],[9.8,3.2],[9.9,3.0],[10.0,3.0],[10.05,5.0],[10.1,4.4],[10.15,3.4],[10.2,2.8],[10.25,4.2],[10.3,2.5],[10.35,4.9],[10.4,5.6],[10.45,3.8],[10.5,3.0],[10.55,5.6],[10.6,4.4],[10.65,3.4],[10.7,6.3],[10.75,8.2],[10.8,9.4],[10.72,0],[10.78,0],[10.84,0],[10.9,0],[10.96,0],[11.0,2.9],[11.1,3.0],[11.2,3.1],[11.3,3.1],[11.4,3.2],[11.5,3.3],[11.6,3.4],[11.7,3.4],[11.8,3.6],[11.9,3.9],[12.0,4.2],[12.1,4.6],[12.2,5.0],[12.3,5.3],[12.4,4.0],[12.45,2.5],[12.5,1.0],[12.55,0],[12.6,0],[12.65,0],[12.7,2.0],[12.8,2.5],[12.9,2.5],[13.0,2.5],[13.1,2.5],[13.2,2.5],[13.3,2.5],[13.3,13.4],[13.4,2.6],[13.5,3.0],[13.6,3.8],[13.7,4.4],[13.8,5.0],[13.85,4.0],[13.9,5.2],[14.0,3.4],[14.1,3.2],[14.2,3.1],[14.3,3.1],[14.4,3.1],[14.5,3.1],[14.6,3.2],[14.7,3.1],[14.8,3.2],[14.9,3.8],[15.0,3.0],[15.1,3.4],[15.2,3.1],[15.3,3.0],[15.4,2.0],[15.5,6.2],[15.6,6.3],[15.7,6.4],[15.8,6.5],[15.9,6.7],[16.0,6.9],[16.1,7.0],[16.2,7.3],[16.3,7.7],[16.4,8.2],[16.5,0],[16.55,0],[16.6,0],[16.65,0],[16.7,0],[16.75,0],[16.8,0],[16.85,0],[16.9,0],[16.95,0],[17.0,0],[17.05,0],[17.1,0],[16.82,4.4],[16.9,5.0],[17.2,5.0],[17.25,6.3],[17.3,6.5],[17.35,5.8],[17.4,4.5],[17.45,3.5],[17.5,2.0],[17.55,1.0],[17.6,0.5],[17.7,1.5],[17.75,0.3],[17.8,2.0],[17.85,0.5],[17.9,2.5],[18.0,3.0],[18.0,13.8],[18.1,2.8],[18.2,3.0],[18.3,3.8],[18.4,4.3],[18.5,4.6],[18.6,5.0],[18.7,5.5],[18.8,5.8],[18.9,6.1],[19.0,6.3],[19.1,6.6],[19.2,6.8],[19.3,6.4],[19.4,6.2],[19.5,6.3],[19.6,6.3]];

// ---------- CHARTS ----------
Chart.defaults.font.family = "'Liberation Sans', Arial, Helvetica, sans-serif";
Chart.defaults.font.size = 21;
Chart.defaults.color = '#000';
Chart.defaults.animation = false;

const pts = arr => arr.map(p => ({x: p[0], y: p[1]}));
const GRID = 'rgba(0,0,0,0.62)';
const BLUE = '#0000ff', GREEN = '#008000', RED = '#ff0000', CYAN = '#00bfbf';

const boxPlugin = {
  id: 'box',
  beforeDatasetsDraw(chart) {
    const {ctx, chartArea: a, scales: {x, y}} = chart;
    const L = Math.round(a.left) + 0.5, R = Math.round(a.right) - 0.5;
    const T = Math.round(a.top) + 0.5, B = Math.round(a.bottom) - 0.5;
    ctx.save();
    ctx.strokeStyle = '#000';
    ctx.lineWidth = 1;
    ctx.beginPath();
    ctx.rect(L, T, R - L, B - T);
    x.ticks.forEach(t => {
      const px = Math.round(x.getPixelForValue(t.value)) + 0.5;
      ctx.moveTo(px, B); ctx.lineTo(px, B - 6);
      ctx.moveTo(px, T); ctx.lineTo(px, T + 6);
    });
    y.ticks.forEach(t => {
      const py = Math.round(y.getPixelForValue(t.value)) + 0.5;
      ctx.moveTo(L, py); ctx.lineTo(L + 6, py);
      ctx.moveTo(R, py); ctx.lineTo(R - 6, py);
    });
    ctx.stroke();
    ctx.restore();
  }
};

function xScale(showLabels, h) {
  return {
    type: 'linear', min: 0, max: 20,
    grid: {color: GRID, lineWidth: 1, drawTicks: false},
    border: {display: false, dash: [1.5, 4.5]},
    ticks: {display: showLabels, stepSize: xTickStep, padding: 5, maxRotation: 0, autoSkip: false},
    title: {display: showLabels, text: 't [s]', padding: {top: 0, bottom: 1}},
    afterFit: s => { s.height = h; }
  };
}
function yScale(min, max, tickVals, title, fmt) {
  return {
    type: 'linear', min: min, max: max,
    afterBuildTicks: s => { s.ticks = tickVals.map(v => ({value: v})); },
    grid: {color: GRID, lineWidth: 1, drawTicks: false},
    border: {display: false, dash: [1.5, 4.5]},
    ticks: {padding: 5, autoSkip: false, callback: fmt},
    title: {display: true, text: title, padding: {top: 8, bottom: 0}},
    afterFit: s => { s.width = 72; }
  };
}
function baseOptions(pad, xs, ys) {
  return {
    responsive: false, animation: false, events: [],
    layout: {padding: pad},
    plugins: {legend: {display: false}, tooltip: {enabled: false}},
    scales: {x: xs, y: ys}
  };
}

// Top panel
new Chart(document.getElementById('c1'), {
  type: 'scatter',
  data: {datasets: [{
    data: pts(xSignal), showLine: true, borderColor: BLUE, borderWidth: 1.3,
    pointRadius: 0, tension: 0, clip: 0
  }]},
  options: baseOptions({top: 8, right: 13, bottom: 492, left: 0}, xScale(false, 10),
    yScale(-75, 78.5, xTicksTop, 'x [μV]', v => (v < 0 ? '\u2212' + Math.abs(v) : String(v)))),
  plugins: [boxPlugin]
});

// Middle panel
const lineDs = (arr, color, w, order) => ({
  data: pts(arr), showLine: true, borderColor: color, backgroundColor: color, borderWidth: w,
  pointRadius: 0, tension: 0, clip: 0, spanGaps: false, order: order, borderJoinStyle: 'round'
});
new Chart(document.getElementById('c2'), {
  type: 'scatter',
  data: {datasets: [
    lineDs(rBlue, BLUE, 2.6, 4),
    lineDs(rGreen, GREEN, 2.6, 3),
    lineDs(rRed, RED, 3, 2),
    lineDs([[0, rThreshold], [20, rThreshold]], '#000', 1.2, 1)
  ]},
  options: baseOptions({top: 232, right: 13, bottom: 267, left: 0}, xScale(false, 10),
    yScale(0.8, 1, rTicks, 'r', v => (v === 1 ? '1' : v.toFixed(1)))),
  plugins: [boxPlugin]
});

// Bottom panel
const dotDs = (arr, color, order) => ({
  data: pts(arr), showLine: false, backgroundColor: color, borderColor: color,
  pointRadius: 1.7, pointBorderWidth: 0, clip: false, order: order
});
new Chart(document.getElementById('c3'), {
  type: 'scatter',
  data: {datasets: [
    dotDs(fCyanTopT.map(t => [t, fTopEdge]), CYAN, 4),
    dotDs(fCyan, CYAN, 4),
    dotDs(fRed, RED, 3),
    dotDs(fGreen, GREEN, 2),
    dotDs(fBlue, BLUE, 1)
  ]},
  options: baseOptions({top: 457, right: 13, bottom: 0, left: 0}, xScale(true, 52),
    yScale(0, 64, fTicks, 'f [Hz]', v => String(v))),
  plugins: [boxPlugin]
});
</script>
</body></html>
